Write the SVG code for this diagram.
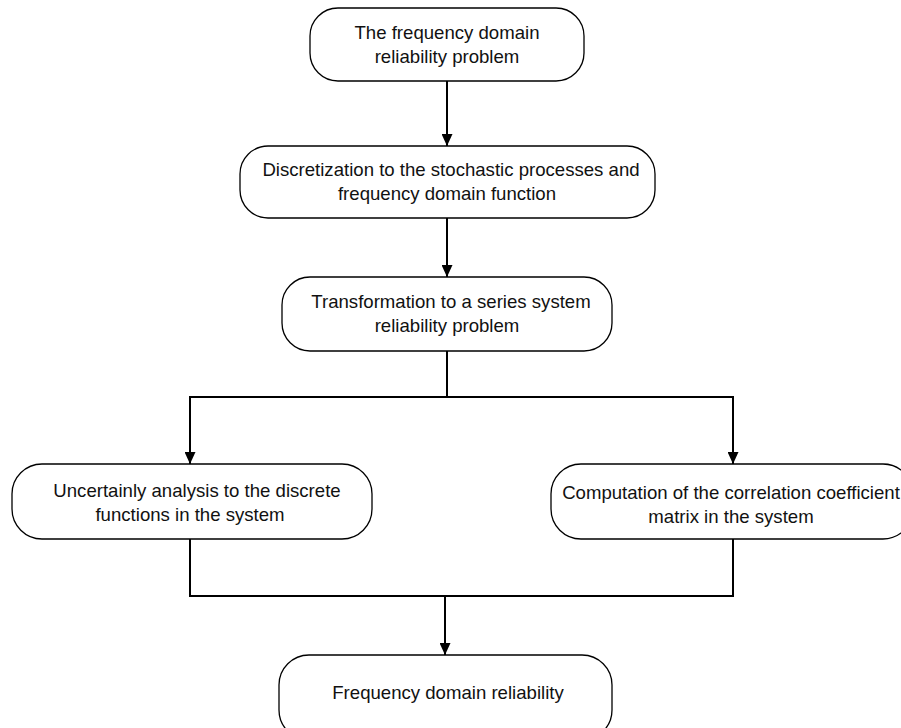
<svg xmlns="http://www.w3.org/2000/svg" width="901" height="728" viewBox="0 0 901 728">
<style>
.n{fill:#fff;stroke:#000;stroke-width:1.3}
.t{font-family:"Liberation Sans",Arial,sans-serif;font-size:18.6px;fill:#111;text-anchor:middle}
.c{fill:none;stroke:#000;stroke-width:2}
</style>
<defs>
<marker id="a" viewBox="0 0 10 10" refX="10" refY="5" markerWidth="12" markerHeight="11" markerUnits="userSpaceOnUse" orient="auto" preserveAspectRatio="none">
<path d="M0,0L10,5L0,10z" fill="#000"/>
</marker>
</defs>
<rect width="901" height="728" fill="#fff"/>
<g id="connectors">
<path class="c" d="M447,81V146" marker-end="url(#a)"/>
<path class="c" d="M447,218V277" marker-end="url(#a)"/>
<path class="c" d="M447,351V397H190V464" marker-end="url(#a)"/>
<path class="c" d="M447,397H733V464" marker-end="url(#a)"/>
<path class="c" d="M190,539V596H733V539"/>
<path class="c" d="M445,596V655" marker-end="url(#a)"/>
</g>
<g id="n1"><rect class="n" x="310" y="8" width="274" height="73" rx="28"/>
<text class="t" x="447" y="39">The frequency domain</text><text class="t" x="447" y="63">reliability problem</text></g>
<g id="n2"><rect class="n" x="240" y="146" width="415" height="72" rx="28"/>
<text class="t" x="451" y="176">Discretization to the stochastic processes and</text><text class="t" x="447" y="200">frequency domain function</text></g>
<g id="n3"><rect class="n" x="282" y="277" width="330" height="74" rx="28"/>
<text class="t" x="451" y="308">Transformation to a series system</text><text class="t" x="447" y="332">reliability problem</text></g>
<g id="n4"><rect class="n" x="12" y="464" width="360" height="75" rx="30"/>
<text class="t" x="197" y="497">Uncertainly analysis to the discrete</text><text class="t" x="190" y="521">functions in the system</text></g>
<g id="n5"><rect class="n" x="551" y="464" width="362" height="75" rx="30"/>
<text class="t" x="731" y="499">Computation of the correlation coefficient</text><text class="t" x="731" y="523">matrix in the system</text></g>
<g id="n6"><rect class="n" x="279" y="655" width="333" height="85" rx="30"/>
<text class="t" x="448" y="699">Frequency domain reliability</text></g>
</svg>
